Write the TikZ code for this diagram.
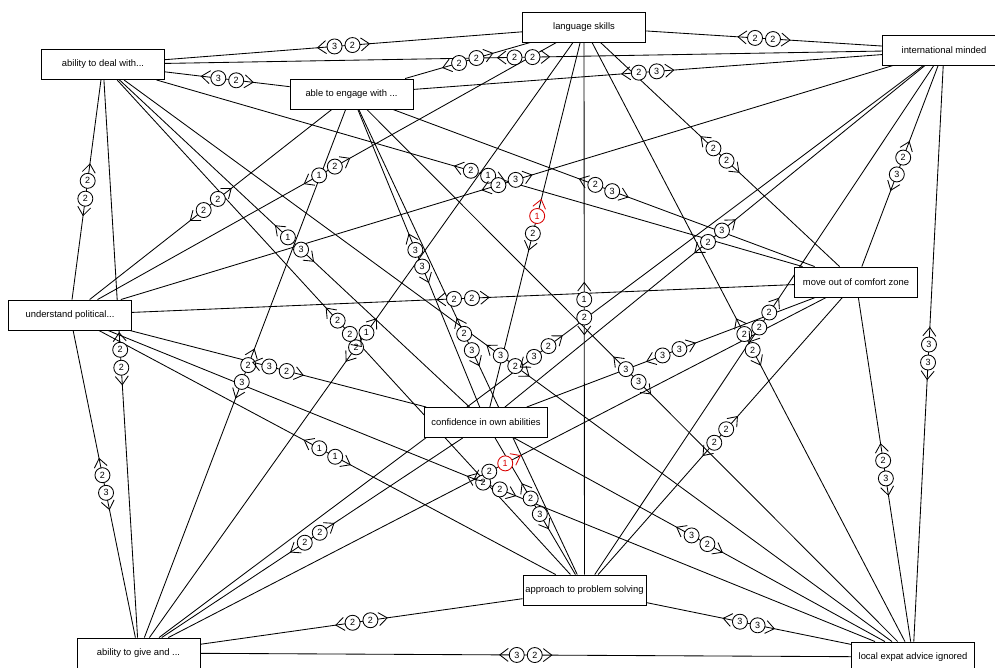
\documentclass[tikz,border=0pt]{standalone}
\usepackage{fontspec}
\setmainfont{Liberation Sans}
\usetikzlibrary{calc}
\pgfdeclarelayer{bg}
\pgfdeclarelayer{edges}
\pgfsetlayers{bg,edges,main}

\tikzset{
  concept/.style={draw=black, line width=0.9pt, fill=white, minimum width=123pt,
    minimum height=30pt, inner sep=0pt, font=\fontsize{9.4}{10}\selectfont},
  edge/.style={draw=black, line width=0.85pt},
  num/.style={circle, draw=black, line width=0.85pt, fill=white, minimum size=15pt,
    inner sep=0pt, font=\fontsize{9}{9}\selectfont},
  chev/.style={draw=black, line width=0.85pt},
  neg/.style={draw=red!85!black, text=red!85!black},
}

% \link{A}{B}{rating at A end}{rating at B end}{style A end}{style B end}
\newcommand\link[6]{%
  \begin{pgfonlayer}{edges}
    \draw[edge] (#1) -- (#2);
  \end{pgfonlayer}
  \coordinate (mid) at ($(#1.center)!0.5!(#2.center)$);
  \draw[chev,#5] ($(mid)!17.5pt!(#1.center)!6.5pt!90:(mid)$) -- ($(mid)!26pt!(#1.center)$)
    -- ($(mid)!17.5pt!(#1.center)!6.5pt!-90:(mid)$);
  \draw[chev,#6] ($(mid)!17.5pt!(#2.center)!6.5pt!90:(mid)$) -- ($(mid)!26pt!(#2.center)$)
    -- ($(mid)!17.5pt!(#2.center)!6.5pt!-90:(mid)$);
  \node[num,#5] at ($(mid)!9pt!(#1.center)$) {#3};
  \node[num,#6] at ($(mid)!9pt!(#2.center)$) {#4};
}

\begin{document}
\begin{tikzpicture}[x=1pt, y=-1pt]
  \useasboundingbox (0,0) rectangle (995,668);
  \begin{pgfonlayer}{bg}
    \fill[white] (0,0) rectangle (995,668);
  \end{pgfonlayer}

  % constructs
  \node[concept] (L) at (584,27)    {language skills};
  \node[concept] (D) at (103,64.5)  {ability to deal with...};
  \node[concept] (I) at (944,50)    {international minded};
  \node[concept] (E) at (351.5,94)  {able to engage with ...};
  \node[concept] (U) at (70,315)    {understand political...};
  \node[concept] (M) at (856,282)   {move out of comfort zone};
  \node[concept] (C) at (486,422.5) {confidence in own abilities};
  \node[concept] (P) at (584.5,590) {approach to problem solving};
  \node[concept] (G) at (138.5,653) {ability to give and ...};
  \node[concept] (X) at (913,657)   {local expat advice ignored};

  % links with their ratings
  \link{D}{L}{3}{2}{}{}
  \link{L}{I}{2}{2}{}{}
  \link{E}{L}{2}{2}{}{}
  \link{U}{L}{1}{2}{}{}
  \link{L}{M}{2}{2}{}{}
  \link{L}{C}{1}{2}{neg}{}
  \link{L}{P}{1}{2}{}{}
  \link{L}{G}{1}{2}{}{}
  \link{L}{X}{2}{2}{}{}
  \link{D}{I}{2}{2}{}{}
  \link{D}{E}{3}{2}{}{}
  \link{D}{U}{2}{2}{}{}
  \link{D}{M}{2}{1}{}{}
  \link{D}{C}{1}{3}{}{}
  \link{D}{P}{2}{2}{}{}
  \link{D}{G}{2}{2}{}{}
  \link{D}{X}{3}{2}{}{}
  \link{E}{I}{2}{3}{}{}
  \link{U}{I}{2}{3}{}{}
  \link{I}{M}{2}{3}{}{}
  \link{I}{C}{3}{2}{}{}
  \link{I}{P}{2}{2}{}{}
  \link{I}{G}{2}{3}{}{}
  \link{I}{X}{3}{3}{}{}
  \link{U}{E}{2}{2}{}{}
  \link{E}{M}{2}{3}{}{}
  \link{E}{C}{3}{3}{}{}
  \link{E}{P}{2}{3}{}{}
  \link{E}{G}{2}{3}{}{}
  \link{E}{X}{3}{3}{}{}
  \link{U}{M}{2}{2}{}{}
  \link{U}{C}{3}{2}{}{}
  \link{U}{P}{1}{1}{}{}
  \link{U}{G}{2}{3}{}{}
  \link{U}{X}{2}{2}{}{}
  \link{C}{M}{3}{3}{}{}
  \link{P}{M}{2}{2}{}{}
  \link{G}{M}{2}{1}{}{neg}
  \link{M}{X}{2}{3}{}{}
  \link{G}{C}{2}{2}{}{}
  \link{C}{X}{3}{2}{}{}
  \link{C}{P}{2}{3}{}{}
  \link{G}{P}{2}{2}{}{}
  \link{P}{X}{3}{3}{}{}
  \link{G}{X}{3}{2}{}{}
\end{tikzpicture}
\end{document}
